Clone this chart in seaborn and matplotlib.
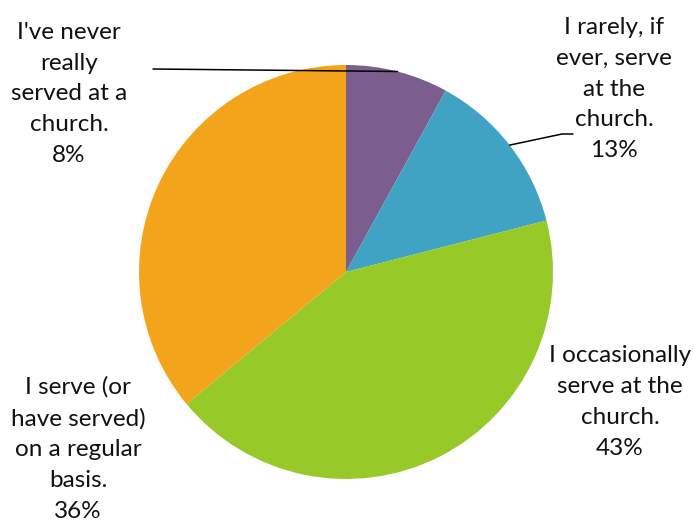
import numpy as np
import matplotlib
matplotlib.use("Agg")
import matplotlib.pyplot as plt
import seaborn as sns

sns.set_theme(style="white")
plt.rcParams["font.family"] = ["Lato", "DejaVu Sans"]

# Survey responses on serving at church
categories = [
    "I've never\nreally\nserved at a\nchurch.",
    "I rarely, if\never, serve\nat the\nchurch.",
    "I occasionally\nserve at the\nchurch.",
    "I serve (or\nhave served)\non a regular\nbasis.",
]
shares = [8, 13, 43, 36]
colors = ["#7B5E8E", "#41A3C4", "#97C928", "#F4A41B"]

W, H = 694, 526
fig = plt.figure(figsize=(W / 100, H / 100), dpi=100)
ax = fig.add_axes([0, 0, 1, 1])

cx, cy, r = 346, H - 272, 207
wedges, _ = ax.pie(shares, colors=colors, startangle=90, counterclock=False,
                   center=(cx, cy), radius=r, frame=True,
                   wedgeprops=dict(linewidth=0))
ax.set_xlim(0, W)
ax.set_ylim(0, H)
ax.set_aspect("equal")
ax.axis("off")

# label anchor points (pixel-space centres of each text block)
label_pos = [(69, H - 94), (614, H - 89), (620, H - 402), (78, H - 449)]
for cat, v, (tx, ty) in zip(categories, shares, label_pos):
    ax.text(tx, ty, f"{cat}\n{v}%", ha="center", va="center",
            fontsize=17.5, linespacing=1.58, color="#111111")

# leader lines from wedge edges to the two upper labels
def edge_point(w):
    ang = np.deg2rad((w.theta1 + w.theta2) / 2)
    return cx + r * np.cos(ang), cy + r * np.sin(ang)

x0, y0 = edge_point(wedges[0])
ax.plot([x0, 153], [y0, H - 69], color="black", lw=1.1)
x1, y1 = edge_point(wedges[1])
ax.plot([x1, 562, 573], [y1, H - 134, H - 134], color="black", lw=1.1)

fig.savefig("out.png", dpi=100)
